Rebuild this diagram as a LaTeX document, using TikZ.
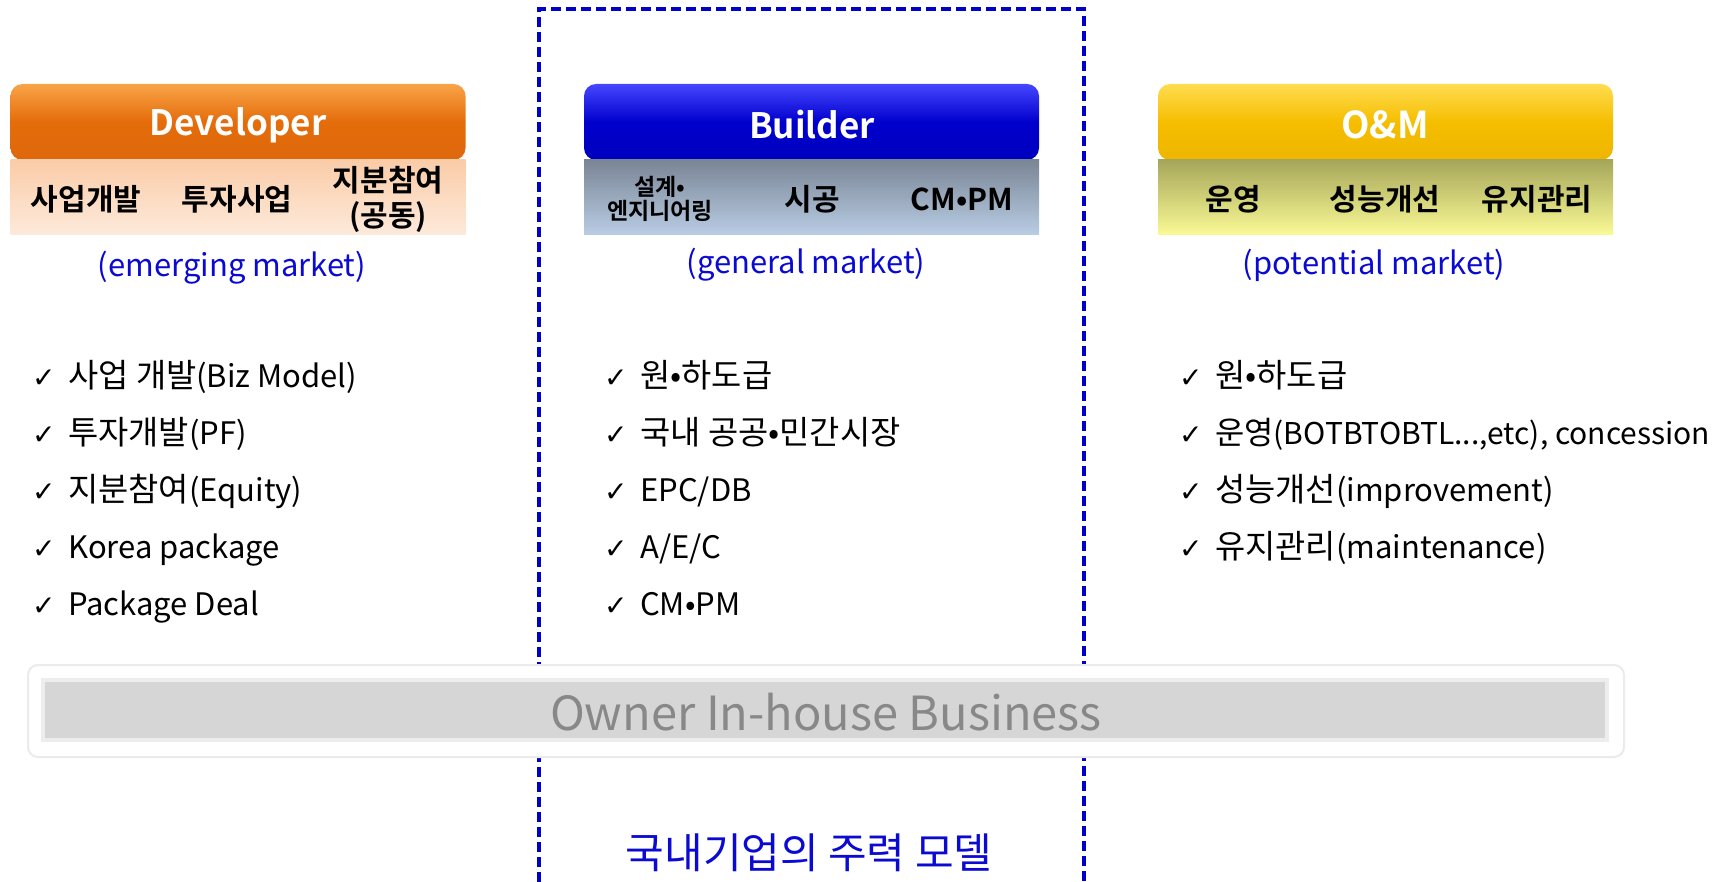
\documentclass[tikz,border=0pt]{standalone}
\usepackage{fontspec}
\setmainfont{Noto Sans CJK KR}[BoldFont={Noto Sans CJK KR Bold}]
\newfontfamily\hgfont{Noto Sans CJK KR}[Scale=1.06]
\newfontfamily\symfont{DejaVu Sans}
\newcommand\hg[1]{{\hgfont #1}}
\usetikzlibrary{shadings}
\definecolor{mblue}{RGB}{10,10,210}
\definecolor{dashblue}{RGB}{0,0,205}
\definecolor{orA}{RGB}{248,164,72}
\definecolor{orB}{RGB}{228,108,10}
\definecolor{orC}{RGB}{222,104,12}
\definecolor{peA}{RGB}{250,204,168}
\definecolor{peB}{RGB}{253,234,219}
\definecolor{blA}{RGB}{70,70,255}
\definecolor{blB}{RGB}{0,0,205}
\definecolor{blC}{RGB}{0,0,190}
\definecolor{gbA}{RGB}{122,133,149}
\definecolor{gbB}{RGB}{185,205,229}
\definecolor{yeA}{RGB}{255,220,80}
\definecolor{yeB}{RGB}{245,190,0}
\definecolor{yeC}{RGB}{238,182,0}
\definecolor{olA}{RGB}{166,166,90}
\definecolor{olB}{RGB}{250,250,150}
\definecolor{ownergray}{RGB}{214,214,214}
\definecolor{ownertext}{RGB}{136,136,136}
\tikzset{
  hdr/.style={rounded corners=12pt, minimum width=455pt, minimum height=76pt, inner sep=0pt},
  hdrtxt/.style={inner sep=0pt, text=white, font=\fontsize{35}{40}\selectfont\bfseries},
  subbox/.style={minimum width=455pt, minimum height=75pt, inner sep=0pt},
  sublbl/.style={inner sep=0pt, align=center, font=\fontsize{30}{35}\selectfont\bfseries},
  smalllbl/.style={inner sep=0pt, align=center, font=\fontsize{23}{24}\selectfont\bfseries},
  mkt/.style={inner sep=0pt, text=mblue, font=\fontsize{31}{36}\selectfont},
  item/.style={inner sep=0pt, anchor=base west, font=\fontsize{31}{36}\selectfont},
  chk/.style={inner sep=0pt, anchor=base west, font=\symfont\fontsize{28}{30}\selectfont},
  dashbox/.style={draw=dashblue, line width=3.5pt, dash pattern=on 10pt off 5pt}
}
\begin{document}
\begin{tikzpicture}[x=1pt,y=-1pt]
\useasboundingbox (0,0) rectangle (1726,882);
\fill[white] (0,0) rectangle (1726,882);

% dashed frame
\draw[dashbox] (539,882) -- (539,9) -- (1084,9) -- (1084,882);

% Developer
\node[hdr, top color=orA, bottom color=orC, middle color=orB] (dev) at (238,122) {};
\node[hdrtxt] (devt) at (238,125) {Developer};
\node[subbox, top color=peA, bottom color=peB] (devsub) at (238,197.5) {};
\node[sublbl] (dev1) at (86,199) {사업개발};
\node[sublbl] (dev2) at (237,199) {투자사업};
\node[sublbl] (dev3) at (388,199) {지분참여\\(공동)};
\node[mkt] (devm) at (232,268) {(emerging market)};

% Builder
\node[hdr, top color=blA, bottom color=blC, middle color=blB] (bld) at (811.5,122) {};
\node[hdrtxt] (bldt) at (812,125) {Builder};
\node[subbox, top color=gbA, bottom color=gbB] (bldsub) at (811.5,197.5) {};
\node[smalllbl] (bld1) at (660,199) {설계•\\엔지니어링};
\node[sublbl] (bld2) at (812,199) {시공};
\node[sublbl] (bld3) at (962,199) {CM•PM};
\node[mkt] (bldm) at (806,265) {(general market)};

% O&M
\node[hdr, top color=yeA, bottom color=yeC, middle color=yeB] (om) at (1385.5,122) {};
\node[hdrtxt, font=\fontsize{37}{40}\selectfont\bfseries] (omt) at (1385,125) {O\&M};
\node[subbox, top color=olA, bottom color=olB] (omsub) at (1385.5,197.5) {};
\node[sublbl] (om1) at (1233,199) {운영};
\node[sublbl] (om2) at (1385,199) {성능개선};
\node[sublbl] (om3) at (1537,199) {유지관리};
\node[mkt] (omm) at (1374,265) {(potential market)};

% lists
\foreach \t [count=\i from 0] in {\hg{사업 개발}(Biz Model),\hg{투자개발}(PF),\hg{지분참여}(Equity),Korea package,Package Deal}{
  \node[chk] (dc\i) at (32,387+57*\i) {✓};
  \node[item] (di\i) at (68,387+57*\i) {\t};
}
\foreach \t [count=\i from 0] in {\hg{원•하도급},\hg{국내 공공•민간시장},EPC/DB,A/E/C,CM•PM}{
  \node[chk] (bc\i) at (604,387+57*\i) {✓};
  \node[item] (bi\i) at (640,387+57*\i) {\t};
}
\node[chk] (oc0) at (1179,387) {✓};
\node[item] (oi0) at (1215,387) {\hg{원•하도급}};
\node[chk] (oc1) at (1179,444) {✓};
\node[item, font=\fontsize{30}{36}\selectfont] (oi1) at (1215,444) {\hg{운영}(BOTBTOBTL...,etc), concession};
\node[chk] (oc2) at (1179,501) {✓};
\node[item] (oi2) at (1215,501) {\hg{성능개선}(improvement)};
\node[chk] (oc3) at (1179,558) {✓};
\node[item] (oi3) at (1215,558) {\hg{유지관리}(maintenance)};

% Owner bar
\node[draw=black!8, line width=2pt, rounded corners=10pt, fill=white,
      minimum width=1596pt, minimum height=92pt, inner sep=0pt] (owner) at (826,711) {};
\node[draw=black!7, line width=4pt, fill=ownergray, minimum width=1564pt, minimum height=60pt,
      inner sep=0pt] (ownerin) at (825,710) {};
\node[inner sep=0pt, text=ownertext, font=\fontsize{47}{50}\selectfont] (ownert) at (826,712) {Owner In-house Business};

% bottom label
\node[inner sep=0pt, text=mblue, font=\fontsize{42}{46}\selectfont] (main) at (809,853) {국내기업의 주력 모델};
\end{tikzpicture}
\end{document}
